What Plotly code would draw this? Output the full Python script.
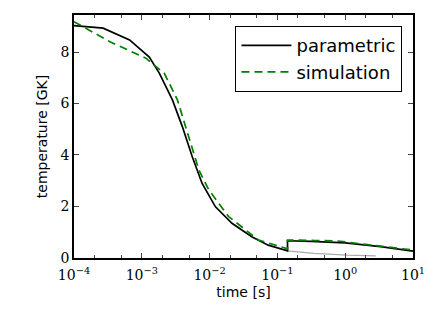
import plotly.graph_objects as go

# parametric (black) trajectory
t_param = [1e-4, 2.69e-4, 6.6e-4, 9.2e-4, 1.29e-3, 1.81e-3, 2.83e-3, 3.96e-3, 5.55e-3,
           7.76e-3, 1.22e-2, 2.14e-2, 4.18e-2, 7.33e-2, 0.141, 0.141, 0.316, 1.0, 3.31, 10.0]
T_param = [9.03, 8.93, 8.47, 8.15, 7.8, 7.18, 6.14, 5.10, 3.93,
           2.89, 1.98, 1.34, 0.82, 0.49, 0.27, 0.66, 0.64, 0.58, 0.43, 0.26]

# simulation (green dashed)
t_sim = [1e-4, 1.74e-4, 3.39e-4, 6.6e-4, 1.15e-3, 1.51e-3, 2.14e-3, 3.35e-3, 5.01e-3,
         6.95e-3, 9.77e-3, 1.91e-2, 5.25e-2, 9.12e-2, 0.132, 0.141, 0.141, 0.186, 0.363,
         0.776, 1.51, 2.95, 5.89, 10.0]
T_sim = [9.18, 8.83, 8.40, 8.05, 7.76, 7.5, 7.18, 6.14, 4.58,
         3.41, 2.63, 1.6, 0.69, 0.49, 0.37, 0.35, 0.69, 0.69, 0.67,
         0.65, 0.56, 0.48, 0.40, 0.30]

# parametric without reheating (gray)
t_gray = [0.141, 0.347, 1.07, 2.82]
T_gray = [0.27, 0.17, 0.10, 0.07]

x_tickvals = [1e-4, 1e-3, 1e-2, 1e-1, 1e0, 1e1]
x_ticktext = ["10<sup>−4</sup>", "10<sup>−3</sup>", "10<sup>−2</sup>",
              "10<sup>−1</sup>", "10<sup>0</sup>", "10<sup>1</sup>"]
y_tickvals = [0, 2, 4, 6, 8]

fig = go.Figure()
fig.add_trace(go.Scatter(x=t_gray, y=T_gray, mode="lines",
                         line=dict(color="#aaaaaa", width=1.2),
                         showlegend=False, hoverinfo="skip"))
fig.add_trace(go.Scatter(x=t_param, y=T_param, mode="lines", name="parametric",
                         line=dict(color="black", width=1.7)))
fig.add_trace(go.Scatter(x=t_sim, y=T_sim, mode="lines", name="simulation",
                         line=dict(color="#008000", width=1.7, dash="8px,5px")))

tickfont = dict(family="DejaVu Serif", size=14, color="black")
fig.update_layout(
    width=437, height=312,
    margin=dict(l=74, r=21, t=15, b=54),
    paper_bgcolor="white", plot_bgcolor="white",
    font=dict(family="DejaVu Sans", size=14, color="black"),
    legend=dict(x=0.968, y=0.955, xanchor="right", yanchor="top",
                bordercolor="black", borderwidth=1.3, bgcolor="white",
                font=dict(family="DejaVu Sans", size=18),
                itemwidth=50),
    xaxis=dict(type="log", range=[-4, 1], tickvals=x_tickvals, ticktext=x_ticktext,
               tickfont=tickfont, ticks="inside", ticklen=5, tickwidth=1,
               ticklabelstandoff=3,
               showline=True, linecolor="black", linewidth=1.5, mirror="allticks",
               showgrid=False, zeroline=False,
               minor=dict(ticks="inside", ticklen=3, tickwidth=1, showgrid=False),
               title=dict(text="time [s]", standoff=6,
                          font=dict(family="DejaVu Sans", size=14))),
    yaxis=dict(range=[-0.01, 9.44], tickvals=y_tickvals, tickfont=tickfont,
               ticks="inside", ticklen=5, tickwidth=1,
               showline=True, linecolor="black", linewidth=1.5, mirror="allticks",
               showgrid=False, zeroline=False,
               title=dict(text="temperature [GK]", standoff=10,
                          font=dict(family="DejaVu Sans", size=14))),
)
fig.write_html("out.html", config={"displayModeBar": False},
               post_script="document.body.style.margin='0';")
